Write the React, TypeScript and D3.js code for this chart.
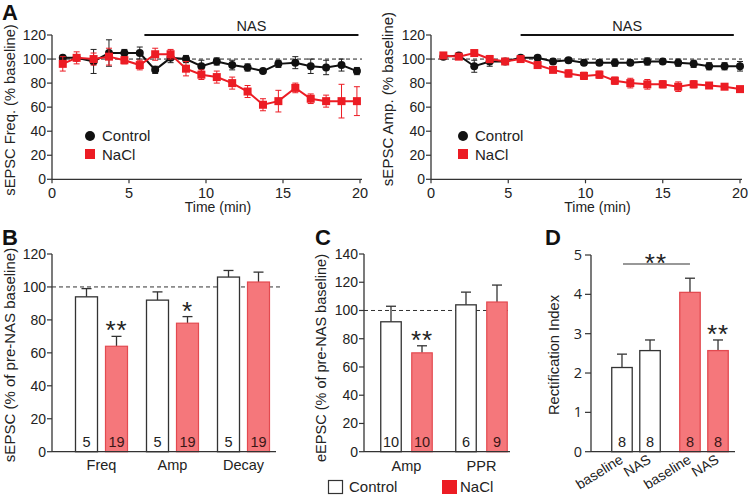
import React from 'react';
import * as d3 from 'd3';

const FONT = "'Liberation Sans', Arial, Helvetica, sans-serif";
const INK = '#222';
const AXIS = '#333';
const RED = '#ec1c24';
const SALMON = '#f5777b';
const SALMON_EDGE = '#e34a50';

// ---------- Panel A data ----------
const timeTicks = [0, 5, 10, 15, 20];
const pctTicks = [0, 20, 40, 60, 80, 100, 120];
const freqTimes = [0.7, 1.6, 2.7, 3.7, 4.7, 5.7, 6.7, 7.7, 8.7, 9.7, 10.7, 11.7, 12.7, 13.7, 14.7, 15.8, 16.8, 17.8, 18.8, 19.8];
const freqControl = [101, 101, 98, 105, 105, 105, 91, 101, 100, 94, 98, 95, 93, 90, 96, 97, 94, 93, 95, 90];
const freqControlErr = [2, 2, 10, 11, 3, 5, 3, 4, 3, 5, 3, 4, 3, 2, 3, 5, 6, 6, 5, 3];
const freqNaCl = [96, 101, 100, 102, 99, 95, 104, 104, 92, 87, 85, 80, 73, 62, 65, 76, 67, 65, 65, 65];
const freqNaClErr = [6, 5, 5, 7, 3, 4, 5, 4, 6, 4, 5, 5, 5, 5, 9, 4, 4, 5, 14, 12];

const ampTimes = [0.8, 1.8, 2.8, 3.8, 4.8, 5.8, 6.9, 7.9, 8.9, 9.9, 10.9, 11.9, 12.9, 14, 15, 16, 17, 18, 19, 20];
const ampControl = [102, 103, 94, 98, 98, 101, 101, 98, 99, 97, 97, 97, 97, 98, 98, 97, 96, 94, 94, 94];
const ampControlErr = [2, 2, 5, 4, 2, 2, 2, 2, 2, 2, 2, 3, 2, 3, 2, 3, 3, 3, 3, 4];
const ampNaCl = [103, 102, 105, 100, 98, 100, 95, 91, 88, 86, 87, 82, 80, 79, 79, 77, 79, 78, 77, 75];
const ampNaClErr = [2, 2, 2, 3, 2, 2, 2, 2, 3, 3, 3, 3, 4, 4, 3, 4, 3, 2, 2, 2];

// ---------- Panel B data ----------
const bCategories = ['Freq', 'Amp', 'Decay'];
const bControl = [94, 92, 106];
const bControlErr = [5, 5, 4];
const bNaCl = [64, 78, 103];
const bNaClErr = [6, 4, 6];
const bControlN = ['5', '5', '5'];
const bNaClN = ['19', '19', '19'];
const bStars = ['**', '*', ''];
const bTicks = [0, 20, 40, 60, 80, 100, 120];

// ---------- Panel C data ----------
const cCategories = ['Amp', 'PPR'];
const cControl = [92, 104];
const cControlErr = [11, 9];
const cNaCl = [70, 106];
const cNaClErr = [5, 12];
const cControlN = ['10', '6'];
const cNaClN = ['10', '9'];
const cStars = ['**', ''];
const cTicks = [0, 20, 40, 60, 80, 100, 120, 140];

// ---------- Panel D data ----------
const dGroups = ['Control', 'NaCl'];
const dConditions = ['baseline', 'NAS'];
const dControl = [2.14, 2.57];
const dControlErr = [0.34, 0.27];
const dNaCl = [4.05, 2.57];
const dNaClErr = [0.36, 0.27];
const dN = ['8', '8'];
const dNaClStars = ['', '**'];
const dTicks = [0, 1, 2, 3, 4, 5];

type TP = {
  x0: number; x1: number; yTop: number; yBot: number;
  times: number[]; ctrl: number[]; ctrlErr: number[]; nacl: number[]; naclErr: number[];
  ylabel: string; ylabelX: number; ylabelY: number; ylabelSize: number; legendX: number;
  nasFrom: number; nasTo: number; axisEnd: number;
};

function TimePanel(p: TP) {
  const x = d3.scaleLinear().domain([0, 20]).range([p.x0, p.x1]);
  const y = d3.scaleLinear().domain([0, 120]).range([p.yBot, p.yTop]);
  const line = d3.line<number>().x((_, i) => x(p.times[i])).y((d) => y(d));
  const nasY = y(120);
  return (
    <g fontFamily={FONT}>
      <line x1={p.x0} x2={p.x0} y1={y(0)} y2={y(120)} stroke={AXIS} strokeWidth={1.3} />
      <line x1={p.x0} x2={p.axisEnd} y1={y(0)} y2={y(0)} stroke={AXIS} strokeWidth={1.3} />
      {pctTicks.map((t) => (
        <g key={'yt' + t}>
          <line x1={p.x0 - 5} x2={p.x0} y1={y(t)} y2={y(t)} stroke={AXIS} strokeWidth={1.2} />
          <text x={p.x0 - 6} y={y(t) + 5} textAnchor="end" fontSize={14} fill={INK}>{t}</text>
        </g>
      ))}
      {timeTicks.map((t) => (
        <g key={'xt' + t}>
          <line x1={x(t)} x2={x(t)} y1={y(0)} y2={y(0) + 4} stroke={AXIS} strokeWidth={1.2} />
          <text x={x(t)} y={y(0) + 18.5} textAnchor="middle" fontSize={14.5} fill={INK}>{t}</text>
        </g>
      ))}
      <text x={(x(0) + x(20)) / 2 + 12} y={y(0) + 33} textAnchor="middle" fontSize={14} fill={INK}>Time (min)</text>
      <text transform={`translate(${p.ylabelX},${p.ylabelY}) rotate(-90)`} textAnchor="middle" fontSize={p.ylabelSize} fill={INK}>{p.ylabel}</text>
      <line x1={x(0)} x2={p.axisEnd} y1={y(100)} y2={y(100)} stroke="#222" strokeWidth={1} strokeDasharray="4,3" />
      <line x1={x(p.nasFrom)} x2={x(p.nasTo)} y1={nasY} y2={nasY} stroke="#111" strokeWidth={2} />
      <text x={(x(p.nasFrom) + x(p.nasTo)) / 2} y={nasY - 4.5} textAnchor="middle" fontSize={14.5} fill={INK}>NAS</text>
      {p.ctrl.map((v, i) => (
        <g key={'ce' + i} stroke="#222" strokeWidth={1}>
          <line x1={x(p.times[i])} x2={x(p.times[i])} y1={y(v - p.ctrlErr[i])} y2={y(v + p.ctrlErr[i])} />
          <line x1={x(p.times[i]) - 3} x2={x(p.times[i]) + 3} y1={y(v - p.ctrlErr[i])} y2={y(v - p.ctrlErr[i])} />
          <line x1={x(p.times[i]) - 3} x2={x(p.times[i]) + 3} y1={y(v + p.ctrlErr[i])} y2={y(v + p.ctrlErr[i])} />
        </g>
      ))}
      <path d={line(p.ctrl) || ''} fill="none" stroke="#111" strokeWidth={2} />
      {p.ctrl.map((v, i) => (
        <circle key={'cc' + i} cx={x(p.times[i])} cy={y(v)} r={4} fill="#111" />
      ))}
      {p.nacl.map((v, i) => (
        <g key={'ne' + i} stroke={RED} strokeWidth={1}>
          <line x1={x(p.times[i])} x2={x(p.times[i])} y1={y(v - p.naclErr[i])} y2={y(v + p.naclErr[i])} />
          <line x1={x(p.times[i]) - 3} x2={x(p.times[i]) + 3} y1={y(v - p.naclErr[i])} y2={y(v - p.naclErr[i])} />
          <line x1={x(p.times[i]) - 3} x2={x(p.times[i]) + 3} y1={y(v + p.naclErr[i])} y2={y(v + p.naclErr[i])} />
        </g>
      ))}
      <path d={line(p.nacl) || ''} fill="none" stroke={RED} strokeWidth={2} />
      {p.nacl.map((v, i) => (
        <rect key={'ns' + i} x={x(p.times[i]) - 4} y={y(v) - 4} width={8} height={8} fill={RED} />
      ))}
      <circle cx={p.legendX} cy={136} r={5} fill="#111" />
      <text x={p.legendX + 12} y={141} fontSize={15} fill={INK}>Control</text>
      <rect x={p.legendX - 5} y={149} width={10} height={10} fill={RED} />
      <text x={p.legendX + 12} y={159.5} fontSize={15} fill={INK}>NaCl</text>
    </g>
  );
}

type BP = {
  categories: string[]; ctrl: number[]; ctrlErr: number[]; nacl: number[]; naclErr: number[];
  ctrlN: string[]; naclN: string[]; stars: string[]; ticks: number[]; yMax: number;
  axisX: number; axisEnd: number; bandRange: [number, number]; innerWidth: number; innerPad: number;
  yTop: number; yBot: number; ylabel: string; ylabelX: number; ylabelY: number; ylabelSize: number;
  catLabelY: number; refEnd: number;
};

function ErrUp({ cx, y0, y1 }: { cx: number; y0: number; y1: number }) {
  return (
    <g stroke={AXIS} strokeWidth={1.3}>
      <line x1={cx} x2={cx} y1={y0} y2={y1} />
      <line x1={cx - 5} x2={cx + 5} y1={y1} y2={y1} />
    </g>
  );
}

function BarPanel(p: BP) {
  const y = d3.scaleLinear().domain([0, p.yMax]).range([p.yBot, p.yTop]);
  const x0 = d3.scaleBand().domain(p.categories).range(p.bandRange);
  const x1 = d3.scaleBand().domain(['Control', 'NaCl'])
    .range([-p.innerWidth / 2, p.innerWidth / 2]).paddingInner(p.innerPad);
  const bw = x1.bandwidth();
  return (
    <g fontFamily={FONT}>
      <line x1={p.axisX} x2={p.refEnd} y1={y(100)} y2={y(100)} stroke="#333" strokeWidth={1} strokeDasharray="4,3" />
      {p.categories.map((c, i) => {
        const gc = (x0(c) as number) + x0.bandwidth() / 2;
        const xc = gc + (x1('Control') as number);
        const xn = gc + (x1('NaCl') as number);
        return (
          <g key={c}>
            <ErrUp cx={xc + bw / 2} y0={y(p.ctrl[i])} y1={y(p.ctrl[i] + p.ctrlErr[i])} />
            <ErrUp cx={xn + bw / 2} y0={y(p.nacl[i])} y1={y(p.nacl[i] + p.naclErr[i])} />
            <rect x={xc} y={y(p.ctrl[i])} width={bw} height={y(0) - y(p.ctrl[i])} fill="#fff" stroke={AXIS} strokeWidth={1.3} />
            <rect x={xn} y={y(p.nacl[i])} width={bw} height={y(0) - y(p.nacl[i])} fill={SALMON} stroke={SALMON_EDGE} strokeWidth={1.2} />
            <text x={xc + bw / 2} y={y(0) - 5} textAnchor="middle" fontSize={14.5} fill={INK}>{p.ctrlN[i]}</text>
            <text x={xn + bw / 2} y={y(0) - 5} textAnchor="middle" fontSize={14.5} fill="#3a1616">{p.naclN[i]}</text>
            {p.stars[i] && (
              <text x={xn + bw / 2} y={y(p.nacl[i] + p.naclErr[i]) + 3} textAnchor="middle" fontSize={26} fill={INK} letterSpacing={1}>{p.stars[i]}</text>
            )}
            <text x={gc} y={p.catLabelY} textAnchor="middle" fontSize={14.5} fill={INK}>{c}</text>
          </g>
        );
      })}
      <line x1={p.axisX} x2={p.axisX} y1={y(0)} y2={y(p.yMax)} stroke={AXIS} strokeWidth={1.3} />
      <line x1={p.axisX} x2={p.axisEnd} y1={y(0)} y2={y(0)} stroke={AXIS} strokeWidth={1.3} />
      {p.ticks.map((t) => (
        <g key={t}>
          <line x1={p.axisX - 5} x2={p.axisX} y1={y(t)} y2={y(t)} stroke={AXIS} strokeWidth={1.2} />
          <text x={p.axisX - 6} y={y(t) + 5} textAnchor="end" fontSize={14} fill={INK}>{t}</text>
        </g>
      ))}
      <text transform={`translate(${p.ylabelX},${p.ylabelY}) rotate(-90)`} textAnchor="middle" fontSize={p.ylabelSize} fill={INK}>{p.ylabel}</text>
    </g>
  );
}

function PanelD() {
  const axisX = 591;
  const y = d3.scaleLinear().domain([0, 5]).range([451.7, 255]);
  const g = d3.scaleBand().domain(dGroups).range([602, 738]);
  const c = d3.scaleBand().domain(dConditions).range([-24.25, 24.25]).paddingInner(0.27);
  const bw = c.bandwidth();
  const series: Record<string, { v: number[]; e: number[] }> = {
    Control: { v: dControl, e: dControlErr },
    NaCl: { v: dNaCl, e: dNaClErr },
  };
  const cx = (grp: string, cond: string) =>
    (g(grp) as number) + g.bandwidth() / 2 + (c(cond) as number) + bw / 2;
  const bracketY = 264;
  return (
    <g fontFamily={FONT}>
      {dGroups.map((grp) =>
        dConditions.map((cond, i) => {
          const v = series[grp].v[i];
          const e = series[grp].e[i];
          const xc = cx(grp, cond);
          const isNaCl = grp === 'NaCl';
          return (
            <g key={grp + cond}>
              <ErrUp cx={xc} y0={y(v)} y1={y(v + e)} />
              <rect x={xc - bw / 2} y={y(v)} width={bw} height={y(0) - y(v)}
                fill={isNaCl ? SALMON : '#fff'} stroke={isNaCl ? SALMON_EDGE : AXIS} strokeWidth={1.3} />
              <text x={xc} y={y(0) - 5} textAnchor="middle" fontSize={14.5} fill={isNaCl ? '#3a1616' : INK}>{dN[i]}</text>
              {isNaCl && dNaClStars[i] && (
                <text x={xc} y={y(v + e) + 3} textAnchor="middle" fontSize={26} fill={INK} letterSpacing={1}>{dNaClStars[i]}</text>
              )}
              <text transform={`translate(${xc + 2},${462}) rotate(-32)`} textAnchor="end" fontSize={14} fill={INK}>{cond}</text>
            </g>
          );
        })
      )}
      <line x1={cx('Control', 'baseline') + 1} x2={cx('NaCl', 'baseline')} y1={bracketY} y2={bracketY} stroke={AXIS} strokeWidth={1.2} />
      <text x={(cx('Control', 'baseline') + cx('NaCl', 'baseline')) / 2} y={bracketY + 8} textAnchor="middle" fontSize={26} fill={INK} letterSpacing={1}>**</text>
      <line x1={axisX} x2={axisX} y1={y(0)} y2={y(5)} stroke={AXIS} strokeWidth={1.3} />
      <line x1={axisX} x2={735} y1={y(0)} y2={y(0)} stroke={AXIS} strokeWidth={1.3} />
      {dTicks.map((t) => (
        <g key={t}>
          <line x1={axisX - 6} x2={axisX} y1={y(t)} y2={y(t)} stroke={AXIS} strokeWidth={1.2} />
          <text x={axisX - 9} y={y(t) + 5} textAnchor="end" fontSize={14.5} fontFamily="'Open Sans', sans-serif" fill={INK}>{t}</text>
        </g>
      ))}
      <text transform={`translate(559,355) rotate(-90)`} textAnchor="middle" fontSize={14.7} fill={INK}>Rectification Index</text>
    </g>
  );
}

export default function App() {
  return (
    <svg width={750} height={496} style={{ position: 'absolute', left: 0, top: 0, background: '#fff' }}>
      <rect width={750} height={496} fill="#fff" />
      <g fontFamily={FONT} fontWeight="bold" fontSize={22} fill="#111">
        <text x={2} y={20}>A</text>
        <text x={2} y={245}>B</text>
        <text x={315} y={245}>C</text>
        <text x={545} y={245}>D</text>
      </g>
      <TimePanel x0={52} x1={360} yTop={35} yBot={179.3}
        times={freqTimes} ctrl={freqControl} ctrlErr={freqControlErr} nacl={freqNaCl} naclErr={freqNaClErr}
        ylabel="sEPSC Freq. (% baseline)" ylabelX={14.5} ylabelY={110} ylabelSize={14.7} legendX={90}
        nasFrom={6} nasTo={19.9} axisEnd={362} />
      <TimePanel x0={431} x1={740} yTop={35} yBot={179.3}
        times={ampTimes} ctrl={ampControl} ctrlErr={ampControlErr} nacl={ampNaCl} naclErr={ampNaClErr}
        ylabel="sEPSC Amp. (% baseline)" ylabelX={393} ylabelY={99} ylabelSize={15} legendX={463}
        nasFrom={5.8} nasTo={19.6} axisEnd={742} />
      <BarPanel categories={bCategories} ctrl={bControl} ctrlErr={bControlErr} nacl={bNaCl} naclErr={bNaClErr}
        ctrlN={bControlN} naclN={bNaClN} stars={bStars} ticks={bTicks} yMax={120}
        axisX={52} axisEnd={276} bandRange={[66, 279]} innerWidth={52} innerPad={0.2667}
        yTop={254} yBot={451.7} ylabel="sEPSC (% of pre-NAS baseline)" ylabelX={15} ylabelY={355} ylabelSize={15}
        catLabelY={470} refEnd={280} />
      <BarPanel categories={cCategories} ctrl={cControl} ctrlErr={cControlErr} nacl={cNaCl} naclErr={cNaClErr}
        ctrlN={cControlN} naclN={cNaClN} stars={cStars} ticks={cTicks} yMax={140}
        axisX={364} axisEnd={510} bandRange={[369, 519]} innerWidth={51.5} innerPad={0.339}
        yTop={254} yBot={451.7} ylabel="eEPSC (% of pre-NAS baseline)" ylabelX={326} ylabelY={358} ylabelSize={14.5}
        catLabelY={471} refEnd={510} />
      <PanelD />
      <g fontFamily={FONT}>
        <rect x={328.5} y={480.5} width={14} height={13} fill="#fff" stroke={AXIS} strokeWidth={1.2} />
        <text x={349} y={492} fontSize={15} fill={INK}>Control</text>
        <rect x={442} y={480} width={15} height={14} fill={RED} />
        <text x={460} y={492} fontSize={15} fill={INK}>NaCl</text>
      </g>
    </svg>
  );
}
